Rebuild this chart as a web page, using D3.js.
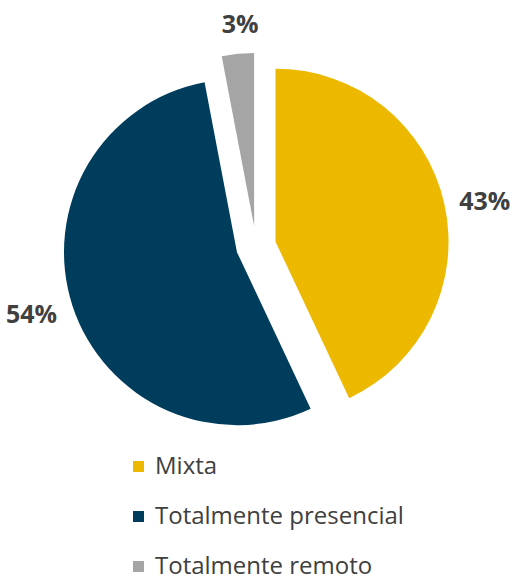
<!DOCTYPE html>
<html>
<head>
<meta charset="utf-8">
<script src="https://cdn.jsdelivr.net/npm/d3@7"></script>
<style>
  body { margin: 0; background: #fff; }
  text { font-family: "Open Sans", "Noto Sans", sans-serif; fill: #404040; }
</style>
</head>
<body>
<svg id="chart" width="520" height="581"></svg>
<script>
// data
var categories = ['Mixta', 'Totalmente presencial', 'Totalmente remoto'];
var values = [43, 54, 3];
var colors = ['#EDB800', '#003D5C', '#A5A5A5'];

var width = 520, height = 581;
var cx = 256, cy = 246;
var radius = 173;
var explode = 20;     // distance each slice is pulled out
var labelGap = 12;

var svg = d3.select('#chart');

var pie = d3.pie().sort(null).value(function (d) { return d; });
var arcs = pie(values);

var arc = d3.arc().innerRadius(0).outerRadius(radius);

// unit vector pointing through the middle of a slice
function dir(d, shift) {
  var a = (d.startAngle + d.endAngle) / 2 + (shift || 0);
  return [Math.sin(a), -Math.cos(a)];
}

var g = svg.append('g')
  .attr('transform', 'translate(' + cx + ',' + cy + ')');

var slices = g.selectAll('g.slice')
  .data(arcs)
  .enter().append('g')
  .attr('class', 'slice')
  .attr('transform', function (d) {
    var u = dir(d);
    return 'translate(' + (u[0] * explode) + ',' + (u[1] * explode) + ')';
  });

slices.append('path')
  .attr('d', arc)
  .attr('fill', function (d, i) { return colors[i]; });

// percentage labels, placed outside the end of each slice
// (labels sit a touch clockwise of the slice middle in the original)
slices.append('text')
  .attr('text-anchor', 'middle')
  .attr('dominant-baseline', 'central')
  .style('font-size', '25px')
  .style('font-weight', 'bold')
  .text(function (d) { return d.data + '%'; })
  .each(function (d) {
    var u = dir(d, 0.025);
    var box = this.getBBox();
    var extra = Math.abs(u[0]) * box.width / 2 + Math.abs(u[1]) * box.height / 2;
    var r = radius + labelGap + extra;
    d3.select(this).attr('x', u[0] * r).attr('y', u[1] * r);
  });

// legend
var legendX = 133, legendY = 474, rowStep = 50;
var legend = svg.append('g').attr('class', 'legend');
var rows = legend.selectAll('g')
  .data(categories)
  .enter().append('g')
  .attr('transform', function (d, i) {
    return 'translate(' + legendX + ',' + (legendY + i * rowStep) + ')';
  });

rows.append('rect')
  .attr('x', 0)
  .attr('y', -13)
  .attr('width', 11)
  .attr('height', 11)
  .attr('fill', function (d, i) { return colors[i]; });

rows.append('text')
  .attr('x', 22)
  .attr('y', 0)
  .style('font-size', '24px')
  .text(function (d) { return d; });
</script>
</body>
</html>
